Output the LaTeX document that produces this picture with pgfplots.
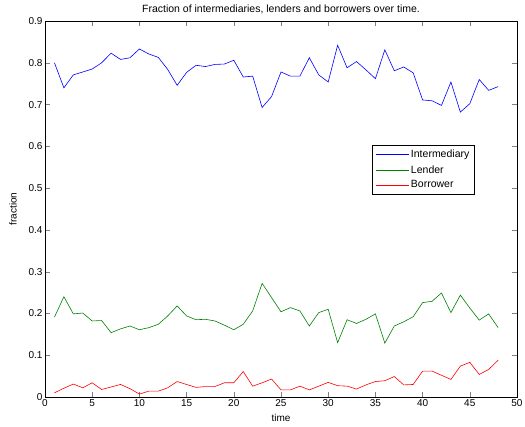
\documentclass[border=0pt]{standalone}
\usepackage{pgfplots}
\pgfplotsset{compat=1.18}
\usepackage{fontspec}
\setmainfont{Liberation Sans}
\definecolor{mblue}{RGB}{0,0,255}
\definecolor{mgreen}{RGB}{0,128,0}
\definecolor{mred}{RGB}{255,0,0}
\begin{document}
\begin{tikzpicture}
\path[use as bounding box] (-45pt,-29pt) rectangle (480pt,397pt);
\begin{axis}[
  at={(0pt,0pt)}, anchor=south west,
  scale only axis,
  width=472pt, height=376pt,
  xmin=0, xmax=50, ymin=0, ymax=0.9,
  xtick={0,5,...,50},
  ytick={0,0.1,...,0.9},
  yticklabel style={/pgf/number format/fixed,/pgf/number format/precision=1},
  /pgf/number format/assume math mode=true,
  tick align=inside,
  tick pos=both,
  major tick length=5pt,
  ticklabel style={font=\fontsize{10}{11}\selectfont},
  xticklabel style={yshift=1pt},
  yticklabel style={xshift=1pt},
  title={Fraction of intermediaries, lenders and borrowers over time.},
  title style={font=\fontsize{10.5}{12}\selectfont, at={(0.5,1)}, anchor=base, yshift=3pt},
  xlabel={time}, ylabel={fraction},
  label style={font=\fontsize{10}{11}\selectfont},
  xlabel style={at={(0.5,0)}, anchor=base, yshift=-24pt},
  ylabel style={at={(0,0.5)}, anchor=center, yshift=32pt},
  axis line style={line width=0.8pt},
  legend style={at={(0.693,0.670)}, anchor=north west, font=\fontsize{10.5}{12}\selectfont, inner xsep=3pt, inner ysep=3pt, row sep=2pt, text=black},
  legend cell align=left,
]
\addlegendimage{legend image code/.code={\draw[draw=mblue, line width=0.7pt] (0pt,0pt) -- (33pt,0pt);}}
\addlegendentry{Intermediary}
\addlegendimage{legend image code/.code={\draw[draw=mgreen, line width=0.7pt] (0pt,0pt) -- (33pt,0pt);}}
\addlegendentry{Lender}
\addlegendimage{legend image code/.code={\draw[draw=mred, line width=0.7pt] (0pt,0pt) -- (33pt,0pt);}}
\addlegendentry{Borrower}
\addplot[mblue, line width=0.6pt, forget plot] coordinates {
(1,0.800)(2,0.740)(3,0.771)(4,0.778)(5,0.785)(6,0.800)(7,0.823)(8,0.808)(9,0.812)(10,0.833)
(11,0.821)(12,0.813)(13,0.784)(14,0.746)(15,0.777)(16,0.794)(17,0.791)(18,0.796)(19,0.797)(20,0.806)
(21,0.766)(22,0.768)(23,0.693)(24,0.719)(25,0.778)(26,0.768)(27,0.768)(28,0.812)(29,0.771)(30,0.754)
(31,0.842)(32,0.788)(33,0.803)(34,0.783)(35,0.762)(36,0.831)(37,0.781)(38,0.790)(39,0.776)(40,0.711)
(41,0.709)(42,0.698)(43,0.754)(44,0.682)(45,0.702)(46,0.760)(47,0.734)(48,0.743)};
\addplot[mgreen, line width=0.6pt, forget plot] coordinates {
(1,0.191)(2,0.240)(3,0.199)(4,0.201)(5,0.182)(6,0.183)(7,0.154)(8,0.163)(9,0.170)(10,0.161)
(11,0.166)(12,0.174)(13,0.194)(14,0.218)(15,0.194)(16,0.185)(17,0.186)(18,0.182)(19,0.172)(20,0.161)
(21,0.174)(22,0.206)(23,0.272)(24,0.238)(25,0.204)(26,0.214)(27,0.206)(28,0.170)(29,0.202)(30,0.210)
(31,0.130)(32,0.185)(33,0.176)(34,0.186)(35,0.199)(36,0.129)(37,0.170)(38,0.180)(39,0.192)(40,0.226)
(41,0.229)(42,0.249)(43,0.202)(44,0.244)(45,0.213)(46,0.184)(47,0.199)(48,0.166)};
\addplot[mred, line width=0.6pt, forget plot] coordinates {
(1,0.010)(2,0.021)(3,0.031)(4,0.022)(5,0.034)(6,0.018)(7,0.024)(8,0.030)(9,0.020)(10,0.007)
(11,0.014)(12,0.014)(13,0.022)(14,0.037)(15,0.030)(16,0.023)(17,0.025)(18,0.025)(19,0.034)(20,0.034)
(21,0.061)(22,0.026)(23,0.034)(24,0.043)(25,0.017)(26,0.017)(27,0.026)(28,0.017)(29,0.026)(30,0.035)
(31,0.027)(32,0.026)(33,0.019)(34,0.029)(35,0.037)(36,0.039)(37,0.049)(38,0.029)(39,0.030)(40,0.062)
(41,0.062)(42,0.052)(43,0.042)(44,0.074)(45,0.083)(46,0.054)(47,0.066)(48,0.088)};
\end{axis}
\end{tikzpicture}
\end{document}
